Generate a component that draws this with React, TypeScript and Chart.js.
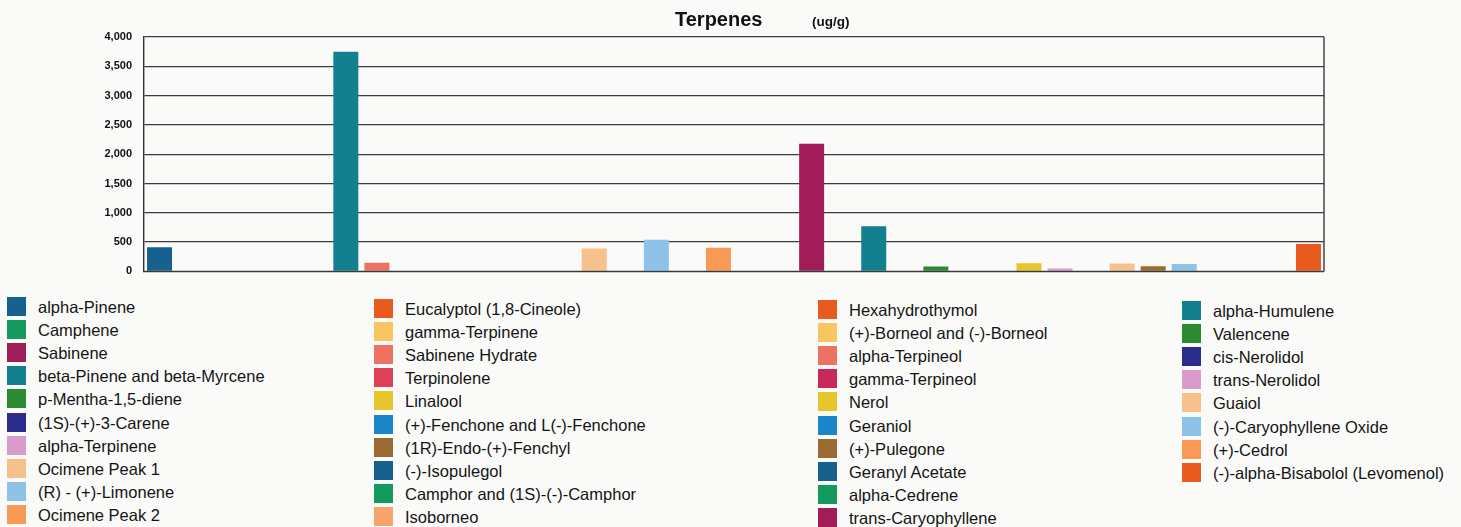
import React, { useEffect, useRef } from "react";
import { Chart, registerables } from "chart.js";

Chart.register(...registerables);

// Legend order (column-major, 4 columns)
const terpenes: string[] = [
  "alpha-Pinene",
  "Camphene",
  "Sabinene",
  "beta-Pinene and beta-Myrcene",
  "p-Mentha-1,5-diene",
  "(1S)-(+)-3-Carene",
  "alpha-Terpinene",
  "Ocimene Peak 1",
  "(R) - (+)-Limonene",
  "Ocimene Peak 2",
  "Eucalyptol (1,8-Cineole)",
  "gamma-Terpinene",
  "Sabinene Hydrate",
  "Terpinolene",
  "Linalool",
  "(+)-Fenchone and L(-)-Fenchone",
  "(1R)-Endo-(+)-Fenchyl",
  "(-)-Isopulegol",
  "Camphor and (1S)-(-)-Camphor",
  "Isoborneo",
  "Hexahydrothymol",
  "(+)-Borneol and (-)-Borneol",
  "alpha-Terpineol",
  "gamma-Terpineol",
  "Nerol",
  "Geraniol",
  "(+)-Pulegone",
  "Geranyl Acetate",
  "alpha-Cedrene",
  "trans-Caryophyllene",
  "alpha-Humulene",
  "Valencene",
  "cis-Nerolidol",
  "trans-Nerolidol",
  "Guaiol",
  "(-)-Caryophyllene Oxide",
  "(+)-Cedrol",
  "(-)-alpha-Bisabolol (Levomenol)",
];

// ug/g, same order as terpenes
const amounts: number[] = [
  410, 12, 0, 3750, 0, 0, 0, 390, 540, 405,
  0, 0, 0, 0, 140, 0, 88, 0, 0, 10,
  0, 0, 148, 0, 0, 0, 0, 0, 0, 2180,
  770, 85, 0, 50, 135, 126, 0, 466,
];

const swatches: string[] = [
  "#17618f", "#149a5c", "#a11d58", "#12808f", "#2c8b30", "#2b2c8c", "#d89bcb", "#f7c18e", "#8dc3e8", "#f89a55",
  "#e85a1e", "#f9c560", "#ee7261", "#dd4258", "#e6c62b", "#1a86c9", "#9b6b32", "#17618f", "#149a5c", "#f8a46a",
  "#e85a1e", "#f9c560", "#ee7261", "#c8285a", "#e6c62b", "#1a86c9", "#9b6b32", "#17618f", "#149a5c", "#a11d58",
  "#12808f", "#2c8b30", "#2b2c8c", "#d89bcb", "#f7c18e", "#8dc3e8", "#f89a55", "#e85a1e",
];

const legendColumnSizes: number[] = [10, 10, 10, 8];
const yMin = 0;
const yMax = 4000;
const yStep = 500;
const chartTitle = "Terpenes";
const chartUnit = "(ug/g)";

const FONT = '"Liberation Sans", Arial, Helvetica, sans-serif';

const framePlugin = {
  id: "frame",
  afterDatasetsDraw(chart: any) {
    const { ctx, chartArea } = chart;
    ctx.save();
    ctx.strokeStyle = "#3a3a3a";
    ctx.lineWidth = 1.4;
    ctx.beginPath();
    ctx.moveTo(chartArea.right, chartArea.top);
    ctx.lineTo(chartArea.right, chartArea.bottom);
    ctx.moveTo(chartArea.left, chartArea.bottom);
    ctx.lineTo(chartArea.right, chartArea.bottom);
    ctx.stroke();
    ctx.restore();
  },
};

const titlePlugin = {
  id: "titleText",
  afterDraw(chart: any) {
    const { ctx, chartArea } = chart;
    ctx.save();
    ctx.fillStyle = "#111";
    ctx.textBaseline = "alphabetic";
    ctx.textAlign = "left";
    ctx.font = `bold 20px ${FONT}`;
    ctx.fillText(chartTitle, chartArea.left + 531, chartArea.top - 11);
    ctx.font = `bold 13.5px ${FONT}`;
    ctx.fillText(chartUnit, chartArea.left + 668, chartArea.top - 11);
    ctx.restore();
  },
};

export default function App() {
  const canvasRef = useRef<HTMLCanvasElement>(null);

  useEffect(() => {
    const half = Math.ceil(terpenes.length / 2);
    const order = terpenes.map((_, x) => (x % 2 === 0 ? x / 2 : half + (x - 1) / 2));
    const chart = new Chart(canvasRef.current as HTMLCanvasElement, {
      type: "bar",
      data: {
        labels: order.map((i) => terpenes[i]),
        datasets: [
          {
            label: chartTitle,
            data: order.map((i) => amounts[i]),
            backgroundColor: order.map((i) => swatches[i]),
            borderWidth: 0,
            barPercentage: 1,
            categoryPercentage: 0.805,
          },
        ],
      },
      options: {
        responsive: false,
        animation: false,
        layout: { padding: { left: 0, right: 137, top: 37, bottom: 16 } },
        plugins: {
          legend: { display: false },
          tooltip: { enabled: false },
          title: { display: false },
        },
        scales: {
          x: { display: false, offset: true },
          y: {
            min: yMin,
            max: yMax,
            ticks: {
              stepSize: yStep,
              padding: 12,
              color: "#111",
              font: { family: FONT, size: 11, weight: "bold" },
              callback: (v: any) => Number(v).toLocaleString("en-US"),
            },
            grid: { color: "#3c3c3c", lineWidth: 1.3, drawTicks: false },
            border: { color: "#333", width: 1.4 },
            afterFit: (s: any) => {
              s.width = 144;
            },
          },
        },
      },
      plugins: [framePlugin, titlePlugin],
    });
    return () => chart.destroy();
  }, []);

  const colLeft = [7, 374, 818, 1182];
  const colTop = [297, 299, 300, 301];
  const pitch = 23.1;

  let start = 0;
  const columns = legendColumnSizes.map((size, c) => {
    const items = terpenes.slice(start, start + size).map((name, r) => {
      const idx = start + r;
      return (
        <div
          key={idx}
          style={{
            position: "absolute",
            left: colLeft[c],
            top: colTop[c] + r * pitch,
            height: 19,
            display: "flex",
            alignItems: "center",
            whiteSpace: "nowrap",
          }}
        >
          <div style={{ width: 19, height: 19, background: swatches[idx], flex: "none" }} />
          <span
            style={{
              marginLeft: 12,
              fontFamily: FONT,
              fontSize: 16.5,
              lineHeight: "19px",
              color: "#141414",
              position: "relative",
              top: 1,
            }}
          >
            {name}
          </span>
        </div>
      );
    });
    start += size;
    return items;
  });

  return (
    <div
      style={{
        position: "fixed",
        left: 0,
        top: 0,
        width: 1461,
        height: 527,
        background: "#fafaf8",
        overflow: "hidden",
      }}
    >
      <canvas ref={canvasRef} width={1461} height={290} style={{ display: "block", position: "absolute", left: 0, top: 0 }} />
      {columns}
    </div>
  );
}
